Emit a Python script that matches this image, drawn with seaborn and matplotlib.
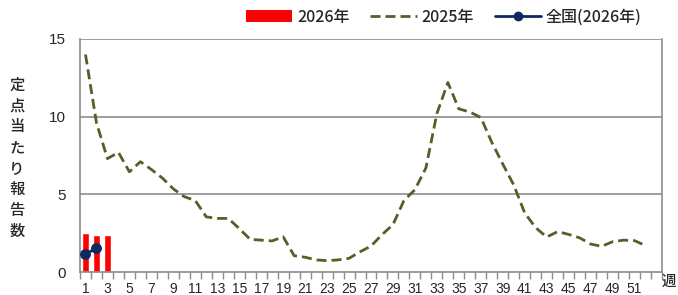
import numpy as np
import pandas as pd
import seaborn as sns
import matplotlib.pyplot as plt
from matplotlib.lines import Line2D
from matplotlib.patches import Patch

# ---- data ----
weeks_2025 = list(range(1, 53))
vals_2025 = [14.0, 9.6, 7.3, 7.7, 6.45, 7.1, 6.6, 6.05, 5.35, 4.85,
             4.6, 3.55, 3.45, 3.45, 2.8, 2.1, 2.05, 2.0, 2.27, 1.05,
             0.95, 0.78, 0.73, 0.78, 0.88, 1.3, 1.67, 2.4, 3.05, 4.6,
             5.3, 6.7, 10.2, 12.2, 10.5, 10.3, 9.95, 8.35, 6.95, 5.6,
             3.8, 2.85, 2.25, 2.6, 2.42, 2.2, 1.8, 1.65, 1.95, 2.05,
             2.02, 1.7]

weeks_2026 = [1, 2, 3]
vals_2026 = [2.49, 2.38, 2.38]

weeks_nat = [1, 2]
vals_nat = [1.13, 1.56]

xtick_weeks = list(range(1, 53, 2))

sns.set_style("white")
plt.rcParams['font.family'] = ['Liberation Sans', 'Noto Sans CJK JP', 'DejaVu Sans']

fig = plt.figure(figsize=(6.78, 2.95), dpi=100)
ax = fig.add_axes([80 / 678, 23 / 295, 582 / 678, 233 / 295])

grid_c = '#8c8c8c'
for v in [5, 10, 15]:
    ax.axhline(v, color=grid_c, lw=1.2, zorder=0)

df26 = pd.DataFrame({'week': weeks_2026, 'val': vals_2026})
sns.barplot(data=df26, x='week', y='val', native_scale=True, width=0.7,
            color='#ff0000', saturation=1, ax=ax, zorder=2)

df25 = pd.DataFrame({'week': weeks_2025, 'val': vals_2025})
sns.lineplot(data=df25, x='week', y='val', ax=ax, color='#4f6228', lw=2,
             zorder=3)
ax.lines[-1].set_dashes([3.6, 1.8])

dfn = pd.DataFrame({'week': weeks_nat, 'val': vals_nat})
sns.lineplot(data=dfn, x='week', y='val', ax=ax, color='#0d2a5e', lw=2,
             marker='o', markersize=7, markeredgecolor='#0d2a5e', zorder=4)

ax.set_xlim(0.5, 53.5)
ax.set_ylim(0, 15)
ax.set_xlabel('')
ax.set_ylabel('')

ax.set_xticks(xtick_weeks)
ax.set_xticklabels([str(w) for w in xtick_weeks], fontsize=10)
ax.set_xticks(np.arange(0.5, 54, 1), minor=True)
ax.tick_params(axis='x', which='major', length=0, pad=7)
ax.tick_params(axis='x', which='minor', length=5, color=grid_c, width=1,
               direction='out', bottom=True)
ax.set_yticks([0, 5, 10, 15])
ax.set_yticklabels(['0', '5', '10', '15'], fontsize=11)
ax.tick_params(axis='y', length=0, pad=10)

for s in ['left', 'bottom', 'right']:
    ax.spines[s].set_visible(True)
    ax.spines[s].set_color(grid_c)
    ax.spines[s].set_linewidth(1.2)
ax.spines['top'].set_visible(False)

handles = [
    Patch(facecolor='#ff0000', edgecolor='none'),
    Line2D([], [], color='#4f6228', lw=2, dashes=[3.6, 1.8]),
    Line2D([], [], color='#0d2a5e', lw=2, marker='o', markersize=6),
]
labels = ['2026年', '2025年', '全国(2026年)']
leg = ax.legend(handles, labels, loc='center', bbox_to_anchor=(0.625, 1.094),
                ncol=3, frameon=False, handlelength=2.9, handleheight=0.8,
                columnspacing=1.3, handletextpad=0.3,
                prop={'family': ['Noto Sans CJK JP'], 'size': 11.5,
                      'weight': 'medium'})

fig.text(17 / 678, 1 - 158 / 295, '\n'.join('定点当たり報告数'),
         ha='center', va='center', fontsize=11, linespacing=1.3,
         family=['Noto Sans CJK JP'], weight='medium')
fig.text(669 / 678, 1 - 282 / 295, '週', ha='center', va='center',
         fontsize=10.5, family=['Noto Sans CJK JP'], weight='medium')

fig.savefig('out.png', dpi=100)
